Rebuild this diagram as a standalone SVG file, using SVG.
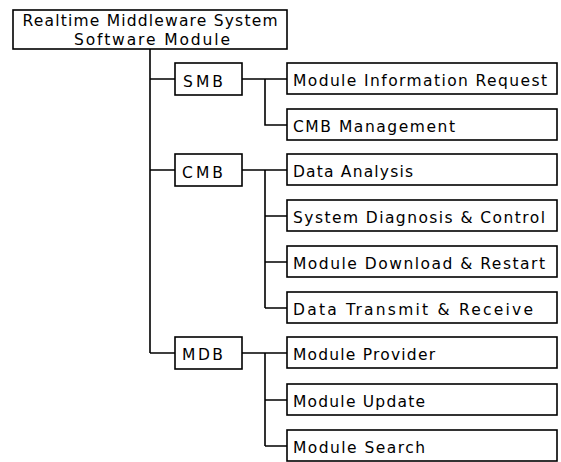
<svg xmlns="http://www.w3.org/2000/svg" width="561" height="462" viewBox="0 0 561 462">
  <style>
    .box { fill: #ffffff; stroke: #000000; stroke-width: 1.6; }
    .wire { fill: none; stroke: #000000; stroke-width: 1.6; }
    text { font-family: "DejaVu Sans", "Liberation Sans", Arial, sans-serif; font-size: 15.5px; fill: #000000; }
    .root-label { text-anchor: middle; }
  </style>
  <rect width="561" height="462" fill="#ffffff"/>

  <!-- connectors -->
  <g id="connectors">
    <!-- trunk from root -->
    <path class="wire" d="M150 49 V353 M150 79 H175 M150 170 H175 M150 353 H175"/>
    <!-- SMB branch -->
    <path class="wire" d="M242 79 H287 M265 79 V125 H287"/>
    <!-- CMB branch -->
    <path class="wire" d="M242 170 H287 M265 170 V308 M265 216 H287 M265 262 H287 M265 308 H287"/>
    <!-- MDB branch -->
    <path class="wire" d="M242 353 H287 M265 353 V446 M265 400 H287 M265 446 H287"/>
  </g>

  <!-- root -->
  <g id="root">
    <rect class="box" x="13" y="10" width="274" height="39"/>
    <text class="root-label" x="150" y="26" textLength="255" lengthAdjust="spacing">Realtime Middleware System</text>
    <text class="root-label" x="152" y="45" textLength="156" lengthAdjust="spacing">Software Module</text>
  </g>

  <!-- second level -->
  <g id="smb">
    <rect class="box" x="175" y="63" width="67" height="32"/>
    <text x="183" y="87" textLength="40" lengthAdjust="spacing">SMB</text>
  </g>
  <g id="cmb">
    <rect class="box" x="175" y="154" width="67" height="32"/>
    <text x="182" y="178" textLength="41" lengthAdjust="spacing">CMB</text>
  </g>
  <g id="mdb">
    <rect class="box" x="175" y="337" width="67" height="32"/>
    <text x="182" y="360" textLength="41" lengthAdjust="spacing">MDB</text>
  </g>

  <!-- leaves -->
  <g id="module-information-request">
    <rect class="box" x="287" y="63" width="270" height="31"/>
    <text x="293" y="86" textLength="254" lengthAdjust="spacing">Module Information Request</text>
  </g>
  <g id="cmb-management">
    <rect class="box" x="287" y="109" width="270" height="31"/>
    <text x="293" y="132" textLength="162" lengthAdjust="spacing">CMB Management</text>
  </g>
  <g id="data-analysis">
    <rect class="box" x="287" y="154" width="270" height="31"/>
    <text x="293" y="177" textLength="120" lengthAdjust="spacing">Data Analysis</text>
  </g>
  <g id="system-diagnosis-control">
    <rect class="box" x="287" y="200" width="270" height="31"/>
    <text x="293" y="223" textLength="252" lengthAdjust="spacing">System Diagnosis &amp; Control</text>
  </g>
  <g id="module-download-restart">
    <rect class="box" x="287" y="246" width="270" height="31"/>
    <text x="293" y="269" textLength="252" lengthAdjust="spacing">Module Download &amp; Restart</text>
  </g>
  <g id="data-transmit-receive">
    <rect class="box" x="287" y="292" width="270" height="31"/>
    <text x="293" y="315" textLength="240" lengthAdjust="spacing">Data Transmit &amp; Receive</text>
  </g>
  <g id="module-provider">
    <rect class="box" x="287" y="337" width="270" height="31"/>
    <text x="293" y="360" textLength="142" lengthAdjust="spacing">Module Provider</text>
  </g>
  <g id="module-update">
    <rect class="box" x="287" y="384" width="270" height="31"/>
    <text x="293" y="407" textLength="132" lengthAdjust="spacing">Module Update</text>
  </g>
  <g id="module-search">
    <rect class="box" x="287" y="430" width="270" height="31"/>
    <text x="293" y="453" textLength="132" lengthAdjust="spacing">Module Search</text>
  </g>
</svg>
